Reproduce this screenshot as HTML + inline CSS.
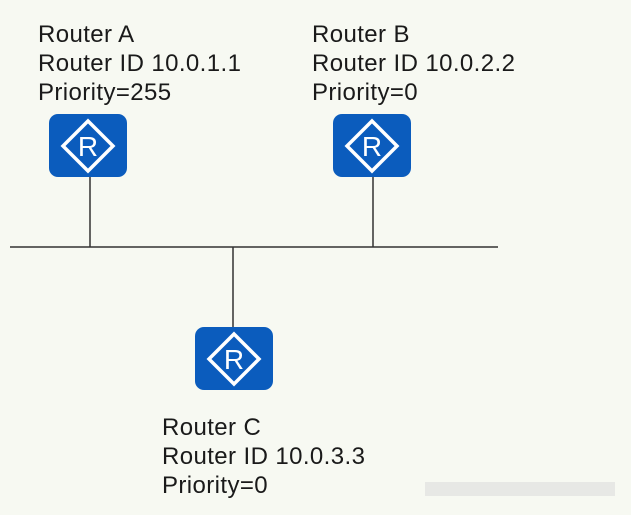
<!DOCTYPE html>
<html><head><style>
body{margin:0;width:631px;height:510px;background:#f7f9f2;overflow:hidden;font-family:"Liberation Sans",sans-serif;}
</style></head><body>
<svg width="631" height="510" xmlns="http://www.w3.org/2000/svg">
<defs>
<g id="r">
<rect x="0" y="0" width="78" height="63" rx="9" fill="#0b5cbd"/>
<path d="M39 7 L64 32 L39 57 L14 32 Z" fill="none" stroke="#fff" stroke-width="3.5"/>
<text x="39" y="42" font-size="28" fill="#fff" text-anchor="middle" font-family="Liberation Sans,sans-serif">R</text>
</g>
</defs>
<g stroke="#333" stroke-width="1.5">
<line x1="10" y1="247" x2="498" y2="247"/>
<line x1="90" y1="177" x2="90" y2="247"/>
<line x1="373" y1="177" x2="373" y2="247"/>
<line x1="233" y1="247" x2="233" y2="327"/>
</g>
<use href="#r" x="49" y="114"/>
<use href="#r" x="333" y="114"/>
<use href="#r" x="195" y="327"/>
<g font-size="24" fill="#1a1a1a" letter-spacing="0.4">
<text x="38" y="42">Router A</text>
<text x="38" y="71">Router ID 10.0.1.1</text>
<text x="38" y="100">Priority=255</text>
<text x="312" y="42">Router B</text>
<text x="312" y="71">Router ID 10.0.2.2</text>
<text x="312" y="100">Priority=0</text>
<text x="162" y="435">Router C</text>
<text x="162" y="464">Router ID 10.0.3.3</text>
<text x="162" y="493">Priority=0</text>
</g>
<rect x="425" y="482" width="190" height="14" fill="#dcdcdc" opacity="0.6"/>
</svg>
</body></html>
